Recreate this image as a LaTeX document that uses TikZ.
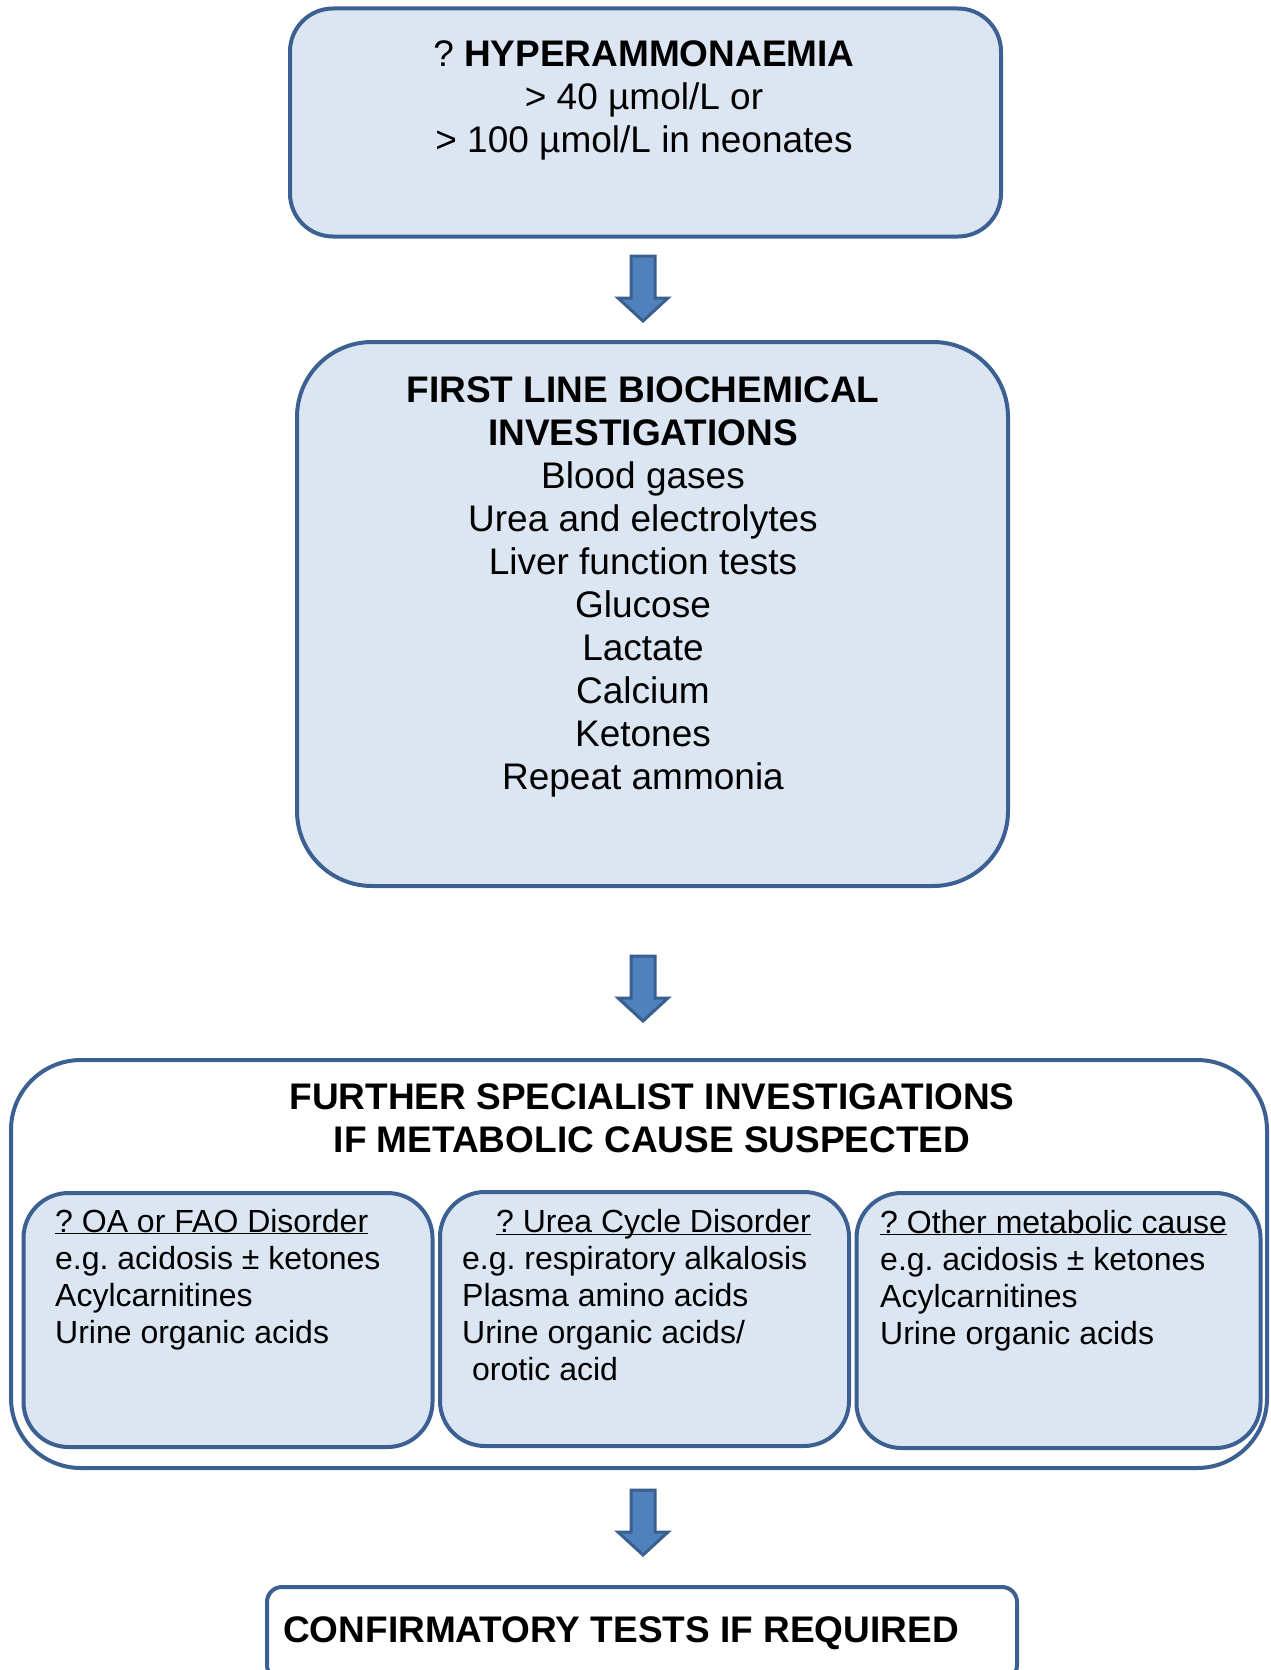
\documentclass[tikz,border=0pt]{standalone}
\usepackage{fontspec}
\setmainfont{Liberation Sans}
\frenchspacing
\definecolor{boxfill}{HTML}{DCE6F2}
\definecolor{boxline}{HTML}{3C6092}
\definecolor{arrfill}{HTML}{4F81BD}
\definecolor{arrline}{HTML}{3A5F8F}
\newcommand\myul[1]{\underline{\smash{#1}}}
\newcommand\blockdown[2]{%
  \filldraw[fill=arrfill,draw=arrline,line width=3pt,line join=miter]
    (#1-12,#2) -- (#1+12,#2) -- (#1+12,#2+42) -- (#1+25,#2+42) -- (#1,#2+65)
    -- (#1-25,#2+42) -- (#1-12,#2+42) -- cycle;}
\begin{document}
\frenchspacing
\begin{tikzpicture}[x=1pt,y=-1pt,
  box/.style={draw=boxline,line width=4pt,fill=boxfill,rectangle,inner sep=0pt},
  bigtxt/.style={font=\fontsize{37}{43}\selectfont\frenchspacing,align=center,inner sep=0pt},
  subtxt/.style={font=\fontsize{32}{37}\selectfont\frenchspacing,align=left,inner sep=0pt,anchor=west}]
\useasboundingbox (0,0) rectangle (1271,1670);
\clip (0,0) rectangle (1271,1670);
% top box
\node[box,rounded corners=43pt,minimum width=711pt,minimum height=228pt] (top) at (645.5,122.5) {};
\node[bigtxt] (toptxt) at (644,100.5) {? \textbf{HYPERAMMONAEMIA}\\> 40 µmol/L or\\> 100 µmol/L in neonates};
\blockdown{643}{256}
% first line box
\node[box,rounded corners=75pt,minimum width=711pt,minimum height=544pt] (first) at (652.5,614) {};
\node[bigtxt] (firsttxt) at (643,587) {\textbf{FIRST LINE BIOCHEMICAL}\\\textbf{INVESTIGATIONS}\\Blood gases\\Urea and electrolytes\\Liver function tests\\Glucose\\Lactate\\Calcium\\Ketones\\Repeat ammonia};
\blockdown{643}{956}
% further box
\node[box,fill=white,rounded corners=70pt,minimum width=1256pt,minimum height=408pt] (further) at (639,1264) {};
\node[bigtxt] (furthertxt) at (652,1118) {\textbf{FURTHER SPECIALIST INVESTIGATIONS}\\\textbf{IF METABOLIC CAUSE SUSPECTED}};
\node[box,rounded corners=45pt,minimum width=409pt,minimum height=254pt] (oa) at (228,1320) {};
\node[box,rounded corners=45pt,minimum width=409pt,minimum height=254pt] (ucd) at (644.5,1319) {};
\node[box,rounded corners=45pt,minimum width=404pt,minimum height=255pt] (other) at (1058.5,1320.5) {};
\node[subtxt] (oatxt) at (55,1291) {\myul{? OA or FAO Disorder}\\e.g. acidosis ± ketones\\Acylcarnitines\\Urine organic acids};
\node[subtxt] (ucdtxt) at (462,1307) {\hspace*{34pt}\myul{? Urea Cycle Disorder}\\e.g. respiratory alkalosis\\Plasma amino acids\\Urine organic acids/\\\hspace*{10pt}orotic acid};
\node[subtxt] (othertxt) at (880,1292) {\myul{? Other metabolic cause}\\e.g. acidosis ± ketones\\Acylcarnitines\\Urine organic acids};
\blockdown{643}{1490}
% bottom box
\node[box,fill=white,rounded corners=15pt,minimum width=750pt,minimum height=93pt] (confirm) at (642,1633.5) {};
\node[bigtxt,anchor=west] (confirmtxt) at (283,1633) {\textbf{CONFIRMATORY TESTS IF REQUIRED}};
\end{tikzpicture}
\end{document}
